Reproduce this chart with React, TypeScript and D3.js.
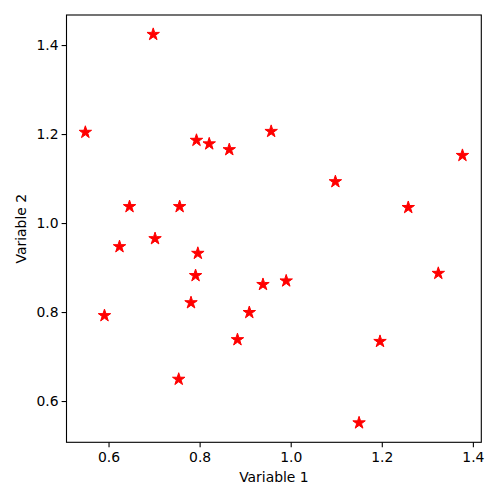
import React from "react";
import * as d3 from "d3";

const xValues = [0.548, 0.697, 0.792, 0.820, 0.864, 0.645, 0.755, 0.701, 0.623, 0.795, 0.790, 0.780, 0.590, 0.753, 0.882, 0.908, 0.938, 0.989, 0.956, 1.097, 1.257, 1.376, 1.195, 1.323, 1.149];
const yValues = [1.205, 1.425, 1.187, 1.179, 1.166, 1.038, 1.038, 0.966, 0.948, 0.933, 0.883, 0.822, 0.793, 0.650, 0.739, 0.800, 0.863, 0.871, 1.207, 1.094, 1.036, 1.153, 0.735, 0.888, 0.552];
const xTicks = [0.6, 0.8, 1.0, 1.2, 1.4];
const yTicks = [0.6, 0.8, 1.0, 1.2, 1.4];
const xLabel = "Variable 1";
const yLabel = "Variable 2";

export default function App() {
  const left = 66.5, right = 481.3, top = 15, bottom = 442.3;
  const xExt = d3.extent(xValues) as [number, number];
  const yExt = d3.extent(yValues) as [number, number];
  const xm = (xExt[1] - xExt[0]) * 0.05;
  const ym = (yExt[1] - yExt[0]) * 0.05;
  const x = d3.scaleLinear().domain([xExt[0] - xm, xExt[1] + xm]).range([left, right]);
  const y = d3.scaleLinear().domain([yExt[0] - ym, yExt[1] + ym]).range([bottom, top]);
  const star = d3.symbol().type(d3.symbolStar).size(48)();
  const font = "DejaVu Sans, sans-serif";
  const fs = 13.9;
  return (
    <svg width={500} height={500} style={{ position: "absolute", left: 0, top: 0 }} fontFamily={font}>
      <rect x={0} y={0} width={500} height={500} fill="white" />
      {xValues.map((v, i) => (
        <path key={i} d={star!} transform={`translate(${x(v)},${y(yValues[i])})`} fill="red" stroke="red" strokeWidth={1} />
      ))}
      <rect x={left} y={top} width={right - left} height={bottom - top} fill="none" stroke="black" strokeWidth={1.1} />
      {xTicks.map((t) => (
        <g key={t} transform={`translate(${x(t)},${bottom})`}>
          <line y1={0} y2={4.9} stroke="black" strokeWidth={1.1} />
          <text y={20} textAnchor="middle" fontSize={fs} fill="black">{t.toFixed(1)}</text>
        </g>
      ))}
      {yTicks.map((t) => (
        <g key={t} transform={`translate(${left},${y(t)})`}>
          <line x1={0} x2={-4.9} stroke="black" strokeWidth={1.1} />
          <text x={-8} dy="0.35em" textAnchor="end" fontSize={fs} fill="black">{t.toFixed(1)}</text>
        </g>
      ))}
      <text x={(left + right) / 2} y={482} textAnchor="middle" fontSize={fs} fill="black">{xLabel}</text>
      <text transform={`translate(26,${(top + bottom) / 2}) rotate(-90)`} textAnchor="middle" fontSize={fs} fill="black">{yLabel}</text>
    </svg>
  );
}
